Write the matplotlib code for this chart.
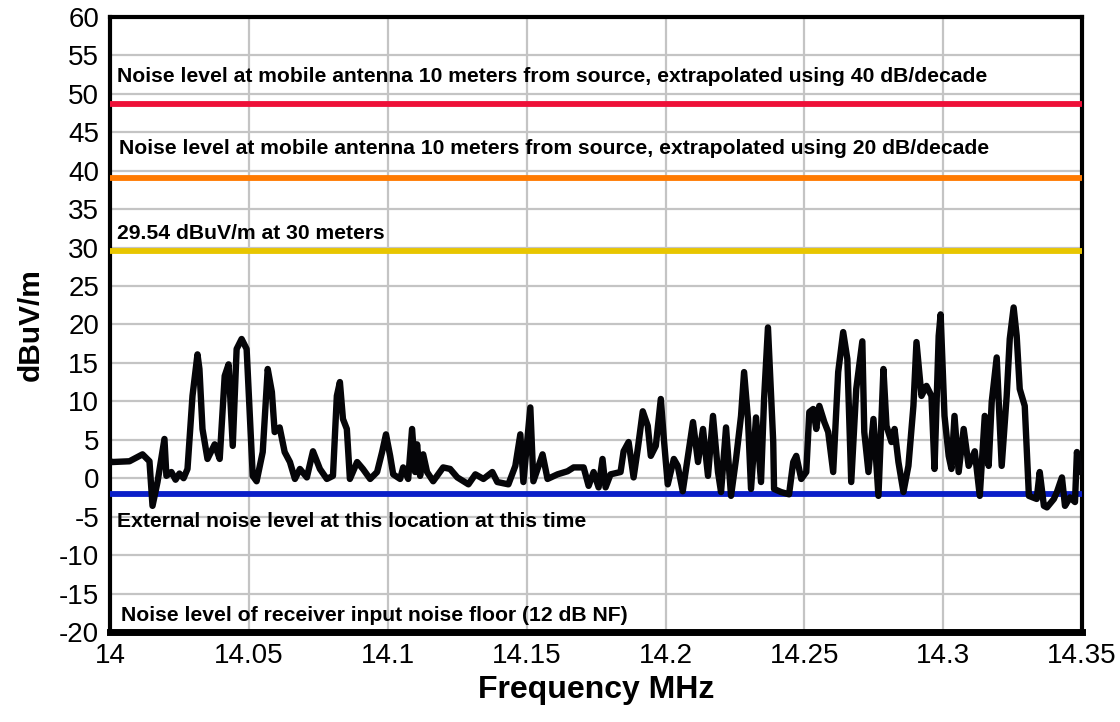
import matplotlib
matplotlib.use("Agg")
import matplotlib.pyplot as plt
from matplotlib.ticker import FuncFormatter, MultipleLocator

plt.rcParams['font.family'] = ['Liberation Sans', 'DejaVu Sans']
plt.rcParams['axes.unicode_minus'] = False

# Measured spectrum trace
freq_mhz = [
    14.0000, 14.0007, 14.0069, 14.0116, 14.0141, 14.0152, 14.0170, 14.0195, 14.0202,
    14.0220, 14.0235, 14.0249, 14.0264, 14.0278, 14.0296, 14.0314, 14.0321, 14.0332,
    14.0350, 14.0376, 14.0394, 14.0412, 14.0426, 14.0441, 14.0455, 14.0473, 14.0491,
    14.0513, 14.0527, 14.0549, 14.0567, 14.0582, 14.0592, 14.0610, 14.0628, 14.0647,
    14.0665, 14.0683, 14.0708, 14.0730, 14.0755, 14.0780, 14.0802, 14.0816, 14.0827,
    14.0838, 14.0852, 14.0863, 14.0889, 14.0910, 14.0936, 14.0961, 14.0979, 14.0993,
    14.1008, 14.1019, 14.1044, 14.1055, 14.1073, 14.1087, 14.1098, 14.1105, 14.1116,
    14.1127, 14.1141, 14.1163, 14.1199, 14.1224, 14.1250, 14.1290, 14.1315, 14.1344,
    14.1376, 14.1394, 14.1434, 14.1459, 14.1477, 14.1488, 14.1513, 14.1524, 14.1557,
    14.1575, 14.1611, 14.1647, 14.1669, 14.1705, 14.1723, 14.1741, 14.1759, 14.1773,
    14.1784, 14.1802, 14.1838, 14.1849, 14.1867, 14.1885, 14.1900, 14.1918, 14.1936,
    14.1947, 14.1965, 14.1983, 14.1994, 14.2008, 14.2030, 14.2044, 14.2062, 14.2081,
    14.2099, 14.2117, 14.2135, 14.2153, 14.2171, 14.2189, 14.2200, 14.2218, 14.2236,
    14.2254, 14.2272, 14.2283, 14.2297, 14.2308, 14.2326, 14.2344, 14.2355, 14.2369,
    14.2388, 14.2391, 14.2416, 14.2445, 14.2460, 14.2471, 14.2489, 14.2507, 14.2518,
    14.2532, 14.2543, 14.2554, 14.2572, 14.2586, 14.2604, 14.2622, 14.2640, 14.2655,
    14.2669, 14.2687, 14.2709, 14.2716, 14.2731, 14.2749, 14.2767, 14.2785, 14.2796,
    14.2814, 14.2825, 14.2839, 14.2857, 14.2875, 14.2893, 14.2904, 14.2922, 14.2940,
    14.2958, 14.2969, 14.2984, 14.2991, 14.3005, 14.3020, 14.3030, 14.3041, 14.3056,
    14.3074, 14.3092, 14.3114, 14.3132, 14.3150, 14.3164, 14.3175, 14.3193, 14.3211,
    14.3229, 14.3240, 14.3254, 14.3265, 14.3276, 14.3294, 14.3309, 14.3337, 14.3348,
    14.3363, 14.3374, 14.3399, 14.3410, 14.3428, 14.3439, 14.3457, 14.3475, 14.3482,
    14.3493, 14.3500,
]
level_dbuv = [
    2.2, 2.1, 2.2, 3.1, 2.2, -3.6, -0.5, 5.1, 0.3,
    0.8, -0.2, 0.6, 0.0, 1.2, 10.7, 16.1, 14.2, 6.4,
    2.5, 4.4, 2.5, 13.3, 14.8, 4.2, 16.8, 18.1, 16.8,
    0.3, -0.4, 3.4, 14.2, 11.2, 6.0, 6.6, 3.4, 2.1,
    -0.1, 1.2, 0.1, 3.5, 1.2, -0.1, 0.3, 10.7, 12.5,
    7.7, 6.4, -0.1, 2.1, 1.2, -0.1, 0.8, 3.4, 5.7,
    2.9, 0.5, -0.1, 1.4, -0.1, 6.4, 0.8, 4.4, 0.3,
    3.1, 0.8, -0.4, 1.4, 1.2, 0.1, -0.8, 0.5, -0.1,
    0.8, -0.5, -0.8, 1.6, 5.7, -0.5, 9.2, -0.4, 3.1,
    -0.1, 0.5, 0.9, 1.4, 1.4, -1.0, 0.8, -1.2, 2.5,
    -1.2, 0.5, 0.8, 3.5, 4.7, 0.1, 3.8, 8.7, 6.8,
    2.9, 4.2, 10.3, 5.1, -0.8, 2.5, 1.6, -1.7, 2.9,
    7.3, 2.1, 6.4, 0.3, 8.1, 0.8, -1.8, 6.6, -2.3,
    2.5, 8.1, 13.8, 7.7, -1.4, 7.9, -0.5, 10.3, 19.6,
    4.7, -1.4, -1.8, -2.1, 2.1, 2.9, -0.1, 0.8, 8.6,
    9.0, 6.4, 9.4, 7.3, 6.0, 0.8, 13.8, 19.0, 15.5,
    -0.5, 11.6, 17.8, 6.0, 0.8, 7.7, -2.3, 14.2, 6.8,
    4.7, 6.4, 2.1, -1.8, 1.6, 9.4, 17.7, 10.7, 12.0,
    10.7, 1.2, 18.5, 21.3, 8.1, 2.9, 1.2, 8.1, 0.8,
    6.4, 1.6, 3.5, -2.3, 8.1, 1.6, 9.9, 15.7, 1.6,
    10.7, 18.1, 22.2, 18.5, 11.6, 9.4, -2.3, -2.7, 0.8,
    -3.6, -3.8, -2.7, -1.8, 0.1, -3.6, -2.5, -3.1, 3.4,
    0.8, 1.2,
]

# Reference levels (dBuV/m)
ref_levels = [48.62, 39.08, 29.54, -2.1, -20.0]
ref_colors = ['#ee1038', '#ff7a00', '#e8c600', '#0a1ec8', '#000000']
ref_labels = [
    'Noise level at mobile antenna 10 meters from source, extrapolated using 40 dB/decade',
    'Noise level at mobile antenna 10 meters from source, extrapolated using 20 dB/decade',
    '29.54 dBuV/m at 30 meters',
    'External noise level at this location at this time',
    'Noise level of receiver input noise floor (12 dB NF)',
]
label_y = [52.3, 42.9, 31.8, -5.6, -17.8]
label_x = [14.0023, 14.0030, 14.0023, 14.0023, 14.0037]

x_ticks = [14.0, 14.05, 14.1, 14.15, 14.2, 14.25, 14.3, 14.35]

fig = plt.figure(figsize=(11.2, 7.22), dpi=100)
ax = fig.add_axes([0.0985, 0.1247, 0.8675, 0.852])

ax.set_xlim(14.0, 14.35)
ax.set_ylim(-20, 60)
ax.set_xticks(x_ticks)
ax.yaxis.set_major_locator(MultipleLocator(5))
ax.xaxis.set_major_formatter(FuncFormatter(lambda v, p: '%g' % round(v, 2)))
ax.yaxis.set_major_formatter(FuncFormatter(lambda v, p: '%d' % round(v)))
ax.tick_params(axis='both', length=0, labelsize=20, pad=8)
ax.grid(True, color='#c4c4c4', linewidth=1.6)
ax.set_axisbelow(True)
for s in ax.spines.values():
    s.set_linewidth(3)
    s.set_color('black')

for lvl, col in zip(ref_levels, ref_colors):
    lw = 4.2 if col != '#000000' else 5
    ax.axhline(lvl, color=col, linewidth=lw, zorder=3, clip_on=False if lvl == -20 else True)

ax.plot(freq_mhz, level_dbuv, color='#050508', linewidth=4.6, zorder=4,
        solid_joinstyle='round', solid_capstyle='round')

for txt, lx, ly in zip(ref_labels, label_x, label_y):
    ax.text(lx, ly, txt, fontsize=15.2, fontweight='bold', ha='left', va='center',
            color='#000000', zorder=5)

ax.set_xlabel('Frequency MHz', fontsize=23, fontweight='bold', labelpad=4)
ax.set_ylabel('dBuV/m', fontsize=21.5, fontweight='bold', labelpad=10)

fig.savefig('out.png', dpi=100, facecolor='white')
